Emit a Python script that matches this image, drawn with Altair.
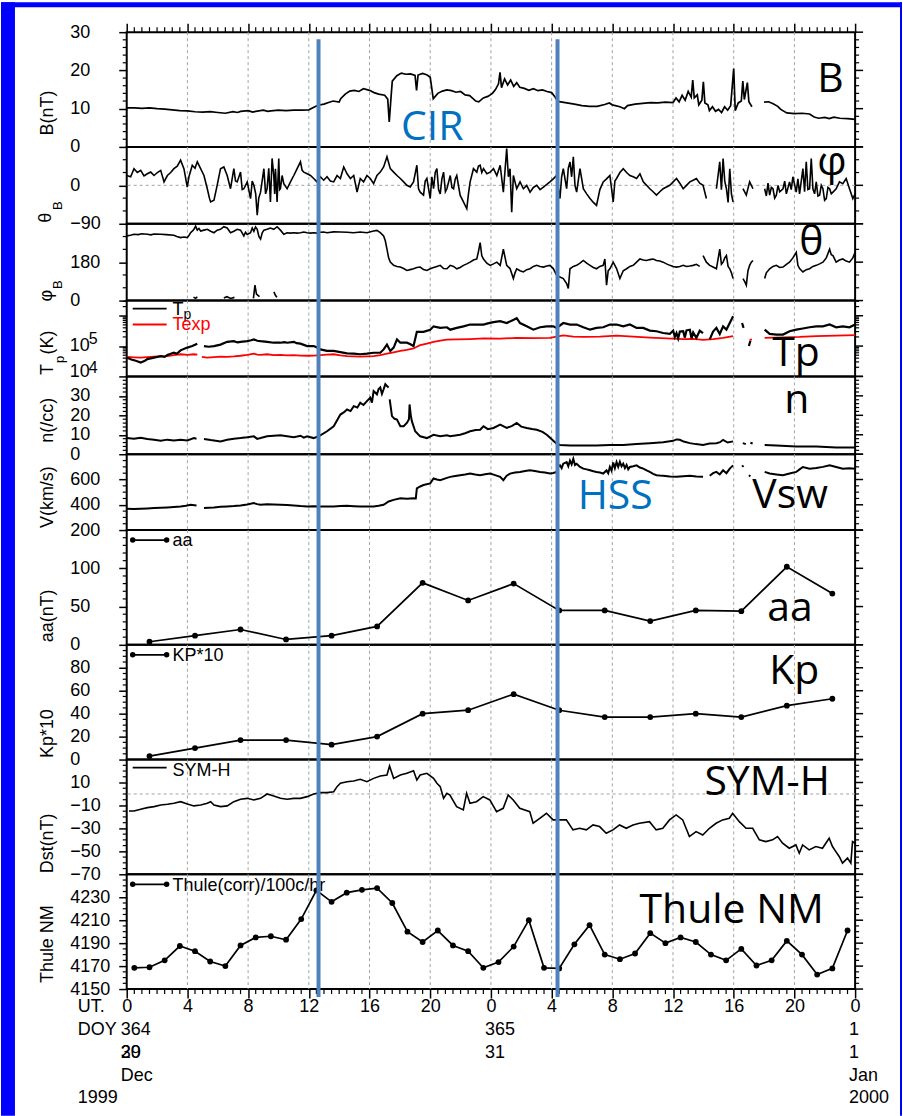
import altair as alt
import pandas as pd

SANS = "Liberation Sans"
BIG = "Open Sans"
W = 730
GRID_C = "#a3a3a3"
EVENT_C = "#4f81bd"
NOTE_C = "#0070c0"

# ---------------- measurements: (hour since 1999-12-30 00 UT, value); None = data gap ----------------
B_NT = [(0.0,10.2),(0.5,10.2),(1.0,10.1),(1.5,10.2),(2.0,10.0),(2.5,9.9),(3.0,9.7),(3.5,9.5),(4.0,9.4),(4.5,9.2),(5.0,9.1),(5.5,9.2),(6.0,9.0),(6.5,8.8),(7.0,9.2),(7.3,9.0),(7.5,9.3),(8.0,9.5),(8.3,9.1),(8.5,9.3),(9.0,9.6),(9.3,9.3),(9.5,9.4),(10.0,9.6),(10.5,9.5),(11.0,9.6),(11.5,9.6),(12.0,9.7),(12.3,10.3),(12.6,10.9),(13.0,11.2),(13.3,11.6),(13.6,12.0),(14.0,11.7),(14.1,12.6),(14.4,13.8),(14.7,14.6),(15.0,14.8),(15.3,14.5),(15.6,15.2),(16.0,14.8),(16.3,14.2),(16.6,13.8),(17.0,13.5),(17.2,12.5),(17.3,6.5),(17.4,12.0),(17.5,17.2),(17.8,18.6),(18.1,19.3),(18.4,19.0),(18.7,19.1),(19.0,18.7),(19.1,14.8),(19.2,18.8),(19.5,19.2),(19.8,18.8),(20.0,18.2),(20.2,12.6),(20.5,14.0),(20.8,14.6),(21.1,14.9),(21.4,14.7),(21.7,14.3),(22.0,14.5),(22.3,13.6),(22.6,13.4),(23.0,12.0),(23.2,11.8),(23.5,12.8),(23.8,13.2),(24.1,14.0),(24.3,15.0),(24.5,16.5),(24.6,19.5),(24.7,15.5),(24.9,17.8),(25.1,16.2),(25.3,17.5),(25.5,15.8),(25.7,16.8),(25.9,15.6),(26.2,15.3),(26.5,14.8),(26.8,15.2),(27.1,14.7),(27.4,14.9),(27.7,14.5),(28.0,14.2),(28.2,13.2),(28.4,11.9),(28.7,11.7),(29.0,11.5),(29.5,11.2),(30.0,10.8),(30.5,10.6),(31.0,10.6),(31.5,11.1),(31.8,11.5),(32.0,11.0),(32.5,10.5),(32.8,10.0),(33.0,10.8),(33.5,11.2),(34.0,11.4),(34.5,11.6),(35.0,11.5),(35.5,11.7),(36.0,11.6),(36.2,12.8),(36.4,11.8),(36.6,13.5),(36.8,12.2),(37.0,14.5),(37.2,13.0),(37.3,17.5),(37.4,12.8),(37.6,13.6),(37.7,11.0),(37.9,12.2),(38.0,17.0),(38.1,11.5),(38.3,11.0),(38.4,9.5),(38.6,10.5),(38.8,9.3),(39.0,9.8),(39.2,9.0),(39.4,10.5),(39.6,9.6),(39.8,10.8),(40.0,20.5),(40.1,9.5),(40.3,11.5),(40.5,12.0),(40.6,17.2),(40.7,12.4),(40.9,16.8),(41.0,11.8),(41.2,10.5),(41.5,None),(42.0,11.7),(42.3,11.8),(42.6,11.3),(42.9,10.6),(43.1,9.8),(43.5,8.9),(44.0,8.7),(44.5,8.8),(45.0,8.6),(45.3,7.8),(45.6,7.5),(46.0,7.7),(46.3,7.4),(46.6,7.8),(47.0,7.5),(47.5,7.4),(48.0,7.2)]

THETA_B = [(0.00,23),(0.26,20),(0.48,39),(0.70,30),(0.92,35),(1.14,22),(1.36,27),(1.58,31),(1.80,23),(2.02,30),(2.24,35),(2.46,8),(2.68,23),(2.90,30),(3.11,39),(3.33,45),(3.55,59),(3.77,39),(3.99,-4),(4.10,20),(4.32,47),(4.50,40),(4.65,55),(4.87,39),(5.09,23),(5.31,-8),(5.45,-30),(5.53,-39),(5.75,-35),(5.96,0),(6.18,39),(6.40,43),(6.62,23),(6.84,-8),(7.06,39),(7.17,10),(7.28,8),(7.50,31),(7.61,-10),(7.72,-8),(7.94,8),(8.16,-31),(8.27,10),(8.38,0),(8.50,-20),(8.60,-70),(8.70,-30),(8.82,-16),(9.04,39),(9.15,-20),(9.25,-8),(9.36,40),(9.47,-39),(9.58,63),(9.69,23),(9.75,-20),(9.80,39),(9.91,-39),(10.02,63),(10.08,-10),(10.13,-8),(10.24,23),(10.35,4),(10.57,-8),(10.79,8),(11.01,23),(11.23,39),(11.45,55),(11.56,35),(11.67,31),(11.89,27),(12.11,23),(12.32,16),(12.54,8),(12.76,20),(12.98,12),(13.20,20),(13.42,10),(13.64,8),(13.86,23),(14.08,16),(14.30,43),(14.52,27),(14.74,16),(14.96,23),(15.18,-16),(15.39,16),(15.61,8),(15.83,23),(16.05,16),(16.27,4),(16.49,23),(16.71,31),(16.93,43),(17.15,67),(17.37,39),(17.59,31),(17.81,23),(18.03,16),(18.25,8),(18.46,0),(18.68,-4),(18.90,8),(19.12,47),(19.23,-8),(19.34,-16),(19.56,-23),(19.67,10),(19.78,16),(20.00,-31),(20.11,20),(20.22,-8),(20.33,30),(20.44,39),(20.55,-10),(20.66,-20),(20.77,15),(20.88,31),(21.00,-15),(21.10,-8),(21.32,23),(21.43,-5),(21.54,-8),(21.65,15),(21.75,23),(21.97,-23),(22.19,-39),(22.41,-55),(22.52,-20),(22.63,8),(22.85,39),(23.07,31),(23.18,45),(23.29,47),(23.40,30),(23.51,39),(23.73,27),(23.95,31),(24.17,39),(24.39,23),(24.61,47),(24.82,-16),(25.04,86),(25.15,20),(25.26,39),(25.37,-63),(25.48,23),(25.70,-8),(25.92,8),(26.14,-8),(26.36,0),(26.58,-16),(26.80,-5),(27.02,0),(27.24,-10),(27.46,-4),(27.68,2),(27.89,8),(28.11,15),(28.33,23),(28.55,-31),(28.66,20),(28.77,39),(28.99,-8),(29.10,40),(29.21,55),(29.32,20),(29.43,67),(29.54,0),(29.65,-16),(29.87,39),(30.09,-8),(30.31,-20),(30.53,-31),(30.75,-40),(30.96,-47),(31.18,-10),(31.40,8),(31.62,15),(31.84,23),(32.06,-39),(32.17,10),(32.28,16),(32.50,30),(32.72,39),(32.94,30),(33.16,23),(33.38,20),(33.60,16),(33.82,27),(34.04,8),(34.26,0),(34.47,-8),(34.69,-15),(34.91,-23),(35.13,-15),(35.35,-8),(35.57,-4),(35.79,0),(36.01,8),(36.23,16),(36.45,5),(36.67,-8),(36.89,0),(37.11,8),(37.33,12),(37.54,16),(37.76,5),(37.98,0),(38.20,-31),(38.30,None),(38.86,-8),(39.08,55),(39.19,-10),(39.30,63),(39.41,10),(39.52,-8),(39.63,-40),(39.74,39),(39.85,-20),(39.96,-39),(40.05,None),(40.61,-8),(40.83,-23),(41.05,8),(41.27,-8),(41.5,None),(42.04,-8),(42.15,-25),(42.26,5),(42.37,-23),(42.48,-5),(42.59,-8),(42.70,-30),(42.81,-23),(42.92,0),(43.03,-15),(43.25,-8),(43.36,10),(43.47,-20),(43.68,8),(43.79,-10),(43.90,20),(44.12,-16),(44.23,15),(44.34,-20),(44.56,39),(44.67,-15),(44.78,55),(44.89,-10),(45.00,-8),(45.11,63),(45.22,-8),(45.33,-20),(45.44,8),(45.55,-25),(45.66,-23),(45.77,0),(45.88,-8),(45.99,-35),(46.10,-31),(46.21,-5),(46.32,-8),(46.43,-20),(46.54,-16),(46.75,-8),(46.97,8),(47.19,4),(47.41,16),(47.63,-8),(47.85,-31),(48.0,-20)]

PHI_B = [(0.0,303),(0.25,306),(0.48,311),(0.75,309),(1.0,313),(1.36,311),(1.6,308),(1.8,312),(2.24,311),(2.6,309),(3.11,306),(3.3,300),(3.55,295),(3.77,298),(3.99,295),(4.1,305),(4.21,318),(4.32,325),(4.43,334),(4.54,349),(4.65,330),(4.76,338),(4.87,326),(5.09,330),(5.31,334),(5.53,325),(5.75,318),(5.96,330),(6.18,334),(6.40,346),(6.62,340),(6.84,318),(7.06,325),(7.28,334),(7.50,330),(7.72,303),(7.83,320),(7.94,310),(8.16,318),(8.27,340),(8.38,325),(8.49,345),(8.60,334),(8.71,300),(8.82,288),(8.93,318),(9.04,330),(9.25,334),(9.47,340),(9.69,334),(9.91,346),(10.13,330),(10.35,311),(10.57,318),(10.79,316),(11.01,318),(11.23,316),(11.45,318),(11.67,321),(11.89,318),(12.11,316),(12.32,318),(12.54,316),(12.76,320),(12.98,321),(13.20,318),(13.64,322),(14.08,321),(14.52,320),(14.96,318),(15.39,321),(15.83,318),(16.27,326),(16.49,329),(16.71,318),(16.93,303),(17.04,280),(17.15,241),(17.26,200),(17.37,180),(17.59,165),(17.81,160),(18.03,157),(18.25,150),(18.46,141),(18.68,145),(18.90,149),(19.12,155),(19.34,157),(19.56,145),(19.78,141),(20.00,149),(20.22,155),(20.44,160),(20.66,165),(20.88,150),(21.10,149),(21.32,165),(21.54,160),(21.75,149),(21.97,155),(22.19,165),(22.41,172),(22.63,180),(22.85,190),(23.07,195),(23.18,230),(23.29,272),(23.40,210),(23.51,195),(23.73,175),(23.95,165),(24.17,172),(24.39,180),(24.61,165),(24.82,241),(25.04,165),(25.26,150),(25.48,103),(25.59,130),(25.70,149),(25.92,140),(26.14,134),(26.36,145),(26.58,149),(26.80,160),(27.02,165),(27.24,160),(27.46,157),(27.68,162),(27.89,165),(28.11,150),(28.33,119),(28.55,110),(28.77,103),(28.99,80),(29.10,57),(29.21,149),(29.43,160),(29.65,165),(29.87,175),(30.09,188),(30.31,175),(30.53,165),(30.75,155),(30.96,149),(31.18,160),(31.40,165),(31.51,195),(31.62,72),(31.73,140),(31.84,149),(32.06,180),(32.28,150),(32.50,103),(32.72,140),(32.94,149),(33.16,160),(33.38,165),(33.60,180),(33.82,195),(34.04,190),(34.26,188),(34.47,192),(34.69,195),(34.91,188),(35.13,185),(35.35,180),(35.57,172),(35.79,165),(36.01,160),(36.23,157),(36.45,160),(36.67,165),(36.89,160),(37.11,162),(37.33,165),(37.54,170),(37.76,160),(37.87,None),(37.98,211),(38.20,180),(38.42,165),(38.64,157),(38.86,149),(39.08,241),(39.19,170),(39.30,180),(39.41,200),(39.52,211),(39.63,160),(39.74,149),(39.85,130),(39.96,103),(40.05,None),(40.61,103),(40.72,90),(40.83,72),(40.94,140),(41.05,165),(41.16,180),(41.27,188),(41.5,None),(42.04,103),(42.15,130),(42.37,149),(42.59,160),(42.81,165),(43.03,155),(43.25,157),(43.47,170),(43.68,180),(43.90,200),(44.12,226),(44.23,165),(44.34,150),(44.56,134),(44.78,145),(45.00,149),(45.22,160),(45.44,165),(45.66,172),(45.88,180),(46.10,200),(46.32,241),(46.43,215),(46.54,211),(46.75,180),(46.97,190),(47.19,195),(47.41,185),(47.63,180),(47.85,200),(48.0,226)]
# short stretches where the azimuth wrapped through 360 -> 0
PHI_B_WRAP = [(4.40,15),(4.55,11),(4.65,18),(4.7,None),(6.40,12),(6.60,18),(6.85,10),(7.10,15),(7.2,None),(8.35,10),(8.45,72),(8.55,30),(8.75,18),(8.8,None),(9.70,41),(9.80,25),(9.90,15)]

TP_K = [(0.0,41700),(0.3,36000),(0.6,33000),(0.92,28800),(1.2,33000),(1.36,37200),(1.8,41700),(2.24,46800),(2.5,44000),(2.68,51300),(3.11,60300),(3.3,56000),(3.55,72400),(3.99,89100),(4.32,100000),(4.65,120000),(4.8,None),(5.09,100000),(5.4,95000),(5.75,100000),(6.18,112000),(6.62,138000),(7.06,145000),(7.3,132000),(7.5,138000),(7.94,145000),(8.2,155000),(8.38,166000),(8.6,150000),(8.82,145000),(9.25,138000),(9.69,129000),(10.13,129000),(10.4,135000),(10.57,129000),(11.01,138000),(11.2,125000),(11.45,120000),(11.89,100000),(12.32,100000),(12.55,90000),(12.76,77600),(13.2,69200),(13.64,69200),(14.08,63100),(14.52,57500),(14.96,56200),(15.39,53700),(15.83,56200),(16.27,60300),(16.71,60300),(16.93,77600),(17.15,112000),(17.37,69200),(17.59,89100),(17.81,166000),(18.03,129000),(18.46,129000),(18.7,115000),(18.9,100000),(19.12,295000),(19.56,295000),(20.0,347000),(20.22,447000),(20.66,398000),(21.1,417000),(21.32,347000),(21.75,398000),(22.19,447000),(22.63,513000),(23.07,513000),(23.51,513000),(23.8,560000),(24.17,617000),(24.61,661000),(25.04,575000),(25.4,700000),(25.7,832000),(25.92,575000),(26.36,447000),(26.8,347000),(27.24,417000),(27.68,447000),(28.11,447000),(28.33,398000),(28.77,575000),(29.21,513000),(29.65,513000),(30.09,417000),(30.53,347000),(30.96,398000),(31.4,417000),(31.84,513000),(32.28,513000),(32.72,447000),(33.16,513000),(33.6,398000),(34.04,398000),(34.47,324000),(34.91,309000),(35.35,269000),(35.79,251000),(36.01,324000),(36.12,200000),(36.23,269000),(36.34,180000),(36.45,300000),(36.67,309000),(36.78,190000),(36.89,330000),(37.11,347000),(37.22,180000),(37.33,280000),(37.54,186000),(37.76,320000),(37.98,269000),(38.2,None),(38.42,166000),(38.64,300000),(38.86,398000),(39.08,250000),(39.3,447000),(39.52,350000),(39.74,575000),(39.96,955000),(40.05,None),(40.55,575000),(40.65,400000),(40.7,None),(41.0,100000),(41.1,150000),(41.2,None),(42.04,347000),(42.37,251000),(42.81,240000),(43.25,240000),(43.68,309000),(44.12,347000),(44.56,380000),(45.0,417000),(45.44,447000),(45.88,447000),(46.32,513000),(46.75,417000),(47.19,447000),(47.63,417000),(48.0,513000)]

TEXP_K = [(0.0,43700),(0.5,42500),(0.92,41700),(1.36,43000),(1.8,44700),(2.24,45500),(2.68,46800),(3.11,50000),(3.55,53700),(4.0,51000),(4.43,53700),(4.65,52000),(4.8,None),(4.95,44000),(5.31,41700),(5.75,43500),(6.18,44700),(6.62,44000),(7.06,45700),(7.5,48000),(7.94,51300),(8.38,56200),(8.6,52000),(8.82,51300),(9.25,53700),(9.69,50000),(10.13,51300),(10.57,49000),(11.01,50100),(11.45,48500),(11.89,47900),(12.32,48500),(12.76,50100),(13.2,52000),(13.64,53700),(14.08,49000),(14.52,46800),(14.96,45500),(15.39,44700),(15.83,46000),(16.27,46800),(16.71,50000),(17.15,56200),(17.59,62000),(18.03,69200),(18.46,75000),(18.9,83200),(19.12,95000),(19.34,107000),(19.78,120000),(20.22,138000),(20.66,151000),(21.1,162000),(21.75,166000),(22.63,170000),(23.51,178000),(24.61,175000),(25.7,186000),(26.8,183000),(27.89,186000),(28.33,205000),(28.77,224000),(29.43,205000),(30.09,200000),(31.18,205000),(32.28,220000),(33.38,205000),(34.47,190000),(35.57,180000),(36.67,170000),(37.33,172000),(37.98,160000),(38.64,170000),(39.3,186000),(39.96,214000),(40.05,None),(40.55,166000),(40.7,None),(41.05,160000),(41.2,166000),(41.3,None),(42.04,186000),(43.25,195000),(44.34,200000),(45.44,214000),(46.75,220000),(48.0,229000)]

N_CC = [(0.0,8.3),(0.48,8.0),(0.92,8.5),(1.36,7.8),(1.8,7.4),(2.24,6.9),(2.68,7.5),(3.11,7.1),(3.55,7.4),(3.99,7.1),(4.43,8.3),(4.6,8.0),(4.8,None),(5.09,7.8),(5.53,7.3),(5.75,7.1),(6.18,6.6),(6.62,7.4),(7.06,8.0),(7.5,8.3),(7.94,8.7),(8.38,9.2),(8.6,7.9),(8.82,8.3),(9.25,9.2),(9.69,9.5),(10.13,9.7),(10.57,9.2),(11.01,8.7),(11.45,9.5),(11.67,8.5),(11.89,9.2),(12.32,8.3),(12.76,9.7),(13.2,11.8),(13.64,14.4),(14.08,20.4),(14.3,21.5),(14.52,23.0),(14.75,22.2),(14.96,24.7),(15.2,24.0),(15.39,26.5),(15.6,25.3),(15.83,27.3),(16.05,29.1),(16.16,26.5),(16.27,32.5),(16.49,30.8),(16.6,33.5),(16.71,34.3),(16.82,31.0),(16.93,33.4),(17.04,36.0),(17.15,35.1),(17.26,34.3),(17.3,None),(17.33,28.2),(17.48,19.6),(17.65,18.2),(17.81,17.8),(18.03,14.4),(18.25,14.4),(18.46,16.1),(18.6,18.0),(18.64,25.6),(18.72,20.0),(18.79,17.0),(19.01,11.8),(19.34,9.2),(19.78,8.3),(20.22,10.0),(20.66,9.2),(21.1,9.7),(21.32,9.2),(21.97,10.0),(22.3,10.8),(22.63,11.8),(23.0,12.4),(23.29,12.6),(23.51,14.4),(23.8,12.9),(24.17,13.5),(24.61,15.2),(25.04,13.5),(25.4,14.6),(25.7,16.1),(26.0,14.2),(26.36,13.5),(26.7,13.0),(27.02,12.6),(27.4,11.5),(27.68,10.0),(27.9,8.5),(28.11,6.9),(28.33,5.5),(28.55,4.8),(29.21,4.5),(30.09,4.5),(30.96,4.5),(31.84,4.8),(32.72,4.8),(33.6,5.2),(34.47,5.7),(35.35,6.2),(36.01,6.9),(36.23,7.6),(36.45,7.4),(36.7,6.5),(37.11,5.7),(37.5,5.2),(37.98,4.8),(38.4,5.5),(38.86,5.7),(39.1,6.2),(39.3,7.4),(39.6,6.0),(39.96,6.6),(40.05,None),(40.6,5.7),(40.8,5.2),(40.9,None),(41.1,5.9),(41.25,5.5),(41.3,None),(42.04,4.8),(42.81,4.5),(44.12,4.0),(45.44,4.0),(46.75,3.5),(48.0,3.5)]

V_KMS = [(0.0,369),(0.46,366),(0.92,369),(1.36,371),(1.8,374),(2.24,376),(2.68,379),(3.11,383),(3.55,387),(3.9,392),(4.21,400),(4.6,395),(4.8,None),(5.09,374),(5.4,377),(5.75,379),(6.18,384),(6.62,387),(7.06,390),(7.5,395),(7.94,402),(8.38,413),(8.6,405),(8.82,400),(9.25,405),(9.69,402),(10.13,400),(10.57,398),(11.01,395),(11.45,390),(11.89,387),(12.32,389),(12.76,387),(13.2,386),(13.64,387),(14.08,390),(14.52,392),(14.96,389),(15.39,387),(15.83,386),(16.27,387),(16.6,392),(16.93,400),(17.26,426),(17.59,439),(18.03,452),(18.46,447),(18.9,452),(19.05,450),(19.12,530),(19.34,545),(19.56,556),(20.0,569),(20.22,608),(20.44,600),(20.66,595),(21.1,613),(21.32,621),(21.65,628),(21.97,634),(22.3,640),(22.63,647),(22.96,640),(23.29,634),(23.62,641),(23.95,647),(24.28,635),(24.61,621),(24.82,595),(25.04,630),(25.26,647),(25.59,655),(25.92,660),(26.25,668),(26.58,673),(26.9,667),(27.24,660),(27.56,655),(27.89,647),(28.11,652),(28.33,660),(28.44,700),(28.55,712),(28.66,690),(28.77,725),(28.99,738),(29.1,705),(29.21,750),(29.32,720),(29.43,764),(29.54,715),(29.65,725),(29.87,700),(30.09,686),(30.31,680),(30.53,673),(30.75,666),(30.96,660),(31.18,655),(31.4,647),(31.62,672),(31.73,650),(31.84,699),(31.95,670),(32.06,735),(32.17,690),(32.28,738),(32.39,700),(32.5,740),(32.61,705),(32.72,725),(32.83,690),(32.94,715),(33.05,680),(33.16,699),(33.38,705),(33.6,712),(33.82,695),(34.04,686),(34.26,672),(34.47,660),(34.69,645),(34.91,634),(35.13,631),(35.35,629),(35.79,624),(36.23,621),(36.67,625),(37.11,629),(37.54,624),(37.98,621),(38.1,None),(38.42,630),(38.64,650),(38.86,660),(39.08,640),(39.3,673),(39.52,650),(39.74,686),(39.96,712),(40.05,None),(40.55,712),(40.65,700),(40.75,None),(41.0,634),(41.1,625),(41.2,None),(42.04,660),(42.37,647),(42.81,640),(43.25,634),(43.68,648),(44.12,660),(44.34,680),(44.56,699),(45.0,686),(45.44,691),(45.88,700),(46.32,712),(46.75,699),(47.19,686),(47.63,690),(48.0,686)]

# 3-hourly indices, centred on each interval
AA_HOURS = [1.5, 4.5, 7.5, 10.5, 13.5, 16.5, 19.5, 22.5, 25.5, 28.5, 31.5, 34.5, 37.5, 40.5, 43.5, 46.5]
AA_NT = [4, 12, 20, 7, 12, 24, 81, 58, 80, 45, 45, 31, 45, 44, 102, 67]
KP_X10 = [3, 10, 17, 17, 13, 20, 40, 43, 57, 43, 37, 37, 40, 37, 47, 53]

SYM_H = [(0.15,-14.8),(0.48,-14.8),(0.92,-13.3),(1.36,-11.9),(1.8,-11.0),(2.24,-9.6),(2.68,-9.0),(3.11,-8.1),(3.55,-6.7),(3.99,-8.7),(4.43,-10.4),(4.87,-9.6),(5.31,-8.1),(5.53,-6.7),(5.75,-9.6),(6.18,-11.0),(6.62,-10.4),(7.06,-6.7),(7.5,-4.6),(7.94,-3.8),(8.38,-5.2),(8.82,-3.8),(9.25,0.0),(9.69,-1.7),(10.13,-3.8),(10.57,-4.6),(11.01,-3.8),(11.45,-3.8),(11.89,-2.3),(12.32,0.0),(12.76,1.2),(13.2,1.2),(13.64,2.0),(13.86,6.4),(14.08,9.3),(14.52,10.7),(14.96,11.3),(15.39,12.8),(15.83,10.7),(16.27,13.6),(16.71,15.7),(17.15,16.5),(17.32,24.4),(17.59,13.6),(18.03,16.5),(18.46,18.0),(18.9,20.3),(19.12,12.2),(19.34,16.5),(19.78,18.0),(20.22,13.6),(20.44,9.3),(20.66,6.4),(20.88,-3.8),(21.1,0.6),(21.3,-0.9),(21.74,-11.0),(22.18,-13.9),(22.4,0.6),(22.62,-8.1),(23.05,-6.7),(23.49,-2.3),(23.93,-5.2),(24.37,-15.4),(24.81,-12.5),(25.14,-0.9),(25.47,-5.2),(25.9,-12.5),(26.56,-15.4),(26.78,-25.5),(27.22,-21.2),(27.66,-16.8),(28.1,-22.6),(28.53,-22.6),(28.97,-22.6),(29.41,-31.3),(29.85,-29.9),(30.29,-31.3),(30.73,-27.0),(31.16,-28.4),(31.6,-34.2),(32.04,-31.3),(32.48,-27.0),(32.92,-29.9),(33.36,-27.0),(33.79,-25.5),(34.45,-24.1),(34.89,-31.3),(35.33,-29.9),(35.77,-22.6),(36.21,-18.3),(36.64,-22.6),(37.08,-37.1),(37.52,-32.8),(37.96,-35.7),(38.4,-29.9),(38.84,-25.5),(39.27,-22.6),(39.71,-21.2),(39.93,-16.8),(40.37,-24.1),(40.81,-29.9),(41.25,-29.9),(41.69,-40.0),(42.12,-41.5),(42.56,-40.0),(42.89,-37.1),(43.22,-42.9),(43.66,-47.3),(44.1,-44.4),(44.32,-51.6),(44.54,-44.4),(44.97,-48.7),(45.41,-45.8),(45.85,-47.3),(46.29,-38.6),(46.51,-45.8),(46.73,-50.2),(46.95,-54.5),(47.17,-60.3),(47.5,-55.9),(47.72,-60.3),(47.83,-41.5),(48.0,-42.9)]

# hourly neutron-monitor counts, centred on each hour
THULE_HOURS = [h + 0.5 for h in range(48)]
THULE_RATE = [4168.5, 4169, 4175, 4187.5, 4183, 4174, 4170, 4188, 4195, 4196, 4193, 4211, 4236, 4226, 4234, 4236.5, 4238, 4225, 4200, 4191, 4201, 4188, 4183, 4168.5, 4173.5, 4187, 4210, 4168.5, 4168, 4189, 4205.7, 4180, 4176, 4181, 4198.7, 4190, 4195, 4191, 4180, 4175, 4185, 4170.5, 4175, 4192, 4180, 4162.6, 4168, 4201]

EVENT_HOURS = [12.64, 28.39]  # CIR arrival, high-speed stream onset

DATE_ROWS = [  # (hour, text, row) beneath the UT axis
    (0, "364", 1), (24, "365", 1), (48, "1", 1),
    (0, "29", 2), (0, "30", 2), (24, "31", 2), (48, "1", 2),
    (0, "Dec", 3), (48, "Jan", 3),
    (48, "2000", 4),
]


# ---------------- helpers ----------------
def frame(pairs):
    rows, seg = [], 0
    for t, v in pairs:
        if v is None:
            seg += 1
        else:
            rows.append({"h": t, "v": v, "seg": seg})
    return pd.DataFrame(rows)


ONE = pd.DataFrame({"k": [0]})
XSCALE = alt.Scale(domain=[0, 48], nice=False, zero=False)
GRID_DF = pd.DataFrame({"h": list(range(4, 48, 4))})
HALF_HOURS = pd.DataFrame({"h": [i / 2 for i in range(1, 96) if i % 8 != 0]})


def xenc(axis=None):
    return alt.X("h:Q", scale=XSCALE, axis=axis, title=None)


def yenc(domain, labels, log=False, show=True):
    if log:
        sc = alt.Scale(domain=domain, type="log", nice=False)
    else:
        sc = alt.Scale(domain=domain, nice=False, zero=False)
    ax = alt.Axis(values=labels, labels=show, tickSize=8, tickWidth=1.5, tickColor="black",
                  domain=False, grid=False, labelAlign="left", labelPadding=49,
                  labelFont=SANS, labelFontSize=18, labelColor="black", format="d",
                  labelBaseline="middle", labelOverlap=False, labelFlush=False)
    return alt.Y("v:Q", scale=sc, axis=ax, title=None)


def steps(lo, hi, step, skip):
    out, k = [], 0
    while lo + k * step <= hi + 1e-9:
        val = round(lo + k * step, 6)
        if all(abs(val - s) > 1e-9 for s in skip):
            out.append(val)
        k += 1
    return out


def text(t, x, y, size=18, font=SANS, color="black", align="left",
         baseline="alphabetic", angle=0):
    return alt.Chart(ONE).mark_text(text=t, font=font, fontSize=size, color=color,
                                    align=align, baseline=baseline, angle=angle).encode(
        x=alt.value(x), y=alt.value(y))


def vtitle(t, x, y, size=18):
    return text(t, x, y, size=size, align="center", baseline="middle", angle=270)


def frame_ticks(Y, majors, minors):
    mn = pd.DataFrame({"v": minors})
    mj = pd.DataFrame({"v": majors})
    return [
        alt.Chart(mn).mark_rule(color="black", strokeWidth=1.2).encode(
            y=Y, x=alt.value(-4), x2=alt.value(0)),
        alt.Chart(mn).mark_rule(color="black", strokeWidth=1.2).encode(
            y=Y, x=alt.value(W), x2=alt.value(W + 4)),
        alt.Chart(mj).mark_rule(color="black", strokeWidth=1.5).encode(
            y=Y, x=alt.value(W), x2=alt.value(W + 8)),
    ]


def grid(X):
    return alt.Chart(GRID_DF).mark_rule(color=GRID_C, strokeDash=[3, 3], strokeWidth=1).encode(x=X)


def zero_line(Y):
    return alt.Chart(pd.DataFrame({"v": [0]})).mark_rule(
        color=GRID_C, strokeDash=[3, 3], strokeWidth=1).encode(y=Y)


def trace(pairs, X, Y, color="black", width=1.7):
    return alt.Chart(frame(pairs)).mark_line(color=color, strokeWidth=width).encode(
        x=X, y=Y, detail="seg:N")


def dotted(hours, values, X, Y):
    df = pd.DataFrame({"h": hours, "v": values})
    return [alt.Chart(df).mark_line(color="black", strokeWidth=1.7).encode(x=X, y=Y),
            alt.Chart(df).mark_circle(color="black", size=34, opacity=1).encode(x=X, y=Y)]


def key(y, label, ty, color="black", dots=False):
    out = [alt.Chart(ONE).mark_rule(color=color, strokeWidth=1.8).encode(
        x=alt.value(6), x2=alt.value(40), y=alt.value(y))]
    if dots:
        for xx in (6, 40):
            out.append(alt.Chart(ONE).mark_circle(color=color, size=30, opacity=1).encode(
                x=alt.value(xx), y=alt.value(y)))
    out.append(text(label, 46, ty, color=color))
    return out


def big(t, x, y, color="black"):
    return text(t, x, y, size=41, font=BIG, color=color)


def strip(x1, x2, y1, y2):
    return alt.Chart(ONE).mark_rect(color="#0000ff", strokeWidth=0).encode(
        x=alt.value(x1), x2=alt.value(x2), y=alt.value(y1), y2=alt.value(y2))


# ---------------- panels ----------------
# 1. field magnitude (UT ticks along the top edge; also carries the slide border)
X1 = xenc(alt.Axis(orient="top", values=list(range(0, 49, 4)), labels=False, tickSize=9,
                   tickWidth=1.5, tickColor="black", domain=False, grid=False))
Y1 = yenc([0, 30], [0, 10, 20, 30])
p1 = alt.layer(
    strip(-126, -112, -30, 1086), strip(-126, 777, -30, -25), strip(775, 777, -30, 1086),
    grid(X1),
    alt.Chart(HALF_HOURS).mark_rule(color="black", strokeWidth=1.2).encode(
        x=X1, y=alt.value(-5), y2=alt.value(0)),
    *frame_ticks(Y1, [0, 10, 20, 30], steps(0, 30, 2, [0, 10, 20, 30])),
    trace(B_NT, X1, Y1),
    vtitle("B(nT)", -79, 81),
    big("B", 692, 60), big("CIR", 275, 108, NOTE_C),
).properties(width=W, height=115)

# 2. field latitude
X2 = xenc()
Y2 = yenc([-90, 90], [-90, 0])
p2 = alt.layer(
    grid(X2), zero_line(Y2),
    *frame_ticks(Y2, [-90, 0, 90], steps(-90, 90, 30, [-90, 0, 90])),
    trace(THETA_B, X2, Y2, width=1.6),
    vtitle("θ", -81, 71), vtitle("B", -69, 59, size=13),
    big("φ", 692, 28),
).properties(width=W, height=77)

# 3. field longitude
X3 = xenc()
Y3 = yenc([0, 360], [0, 180])
p3 = alt.layer(
    grid(X3),
    *frame_ticks(Y3, [0, 180, 360], steps(0, 360, 60, [0, 180, 360])),
    trace(PHI_B, X3, Y3, width=1.6),
    trace(PHI_B_WRAP, X3, Y3, width=1.6),
    vtitle("φ", -80, 72), vtitle("B", -69, 61, size=13),
    big("θ", 674, 31),
).properties(width=W, height=77)

# 4. proton temperature (log)
X4 = xenc()
TP_DOMAIN = [1e4, 10 ** 6.5]
Y4 = yenc(TP_DOMAIN, [1e4, 1e5, 1e6], log=True, show=False)
tp_minor = [m * 10 ** e for e in (4, 5) for m in range(2, 10)] + [2e6, 3e6]


def tp_label(val, t, x, dy, size):
    return alt.Chart(pd.DataFrame({"v": [val]})).mark_text(
        text=t, align="left", baseline="middle", font=SANS, fontSize=size, dy=dy,
        color="black").encode(x=alt.value(x), y=Y4)


p4 = alt.layer(
    grid(X4),
    *frame_ticks(Y4, [1e4, 1e5, 1e6], tp_minor),
    trace(TEXP_K, X4, Y4, color="#ff0000", width=1.8),
    trace(TP_K, X4, Y4, width=2.2),
    tp_label(1e5, "10", -57, 0, 18), tp_label(1e5, "5", -38, -7, 16),
    tp_label(1e4, "10", -57, -4, 18), tp_label(1e4, "4", -38, -8, 16),
    vtitle("T", -79, 69), vtitle("p", -67, 59, size=13), vtitle("(K)", -79, 42),
    *key(8, "T", 14),
    text("p", 57, 18, size=14),
    alt.Chart(ONE).mark_rule(color="#ff0000", strokeWidth=1.8).encode(
        x=alt.value(6), x2=alt.value(40), y=alt.value(24)),
    text("Texp", 46, 29, color="#ff0000"),
    big("Tp", 647, 66),
).properties(width=W, height=76)

# 5. density
X5 = xenc()
Y5 = yenc([0, 40], [0, 10, 20, 30])
p5 = alt.layer(
    grid(X5),
    *frame_ticks(Y5, [0, 10, 20, 30, 40], steps(0, 40, 2, [0, 10, 20, 30, 40])),
    trace(N_CC, X5, Y5, width=2.0),
    vtitle("n(/cc)", -79, 44),
    big("n", 659, 37),
).properties(width=W, height=78)

# 6. solar-wind speed
X6 = xenc()
Y6 = yenc([200, 800], [200, 400, 600])
p6 = alt.layer(
    grid(X6),
    *frame_ticks(Y6, [200, 400, 600, 800], steps(200, 800, 50, [200, 400, 600, 800])),
    trace(V_KMS, X6, Y6, width=2.0),
    vtitle("V(km/s)", -79, 43),
    big("Vsw", 627, 54), big("HSS", 452, 55, NOTE_C),
).properties(width=W, height=76)

# 7. aa index
X7 = xenc()
Y7 = yenc([0, 150], [0, 50, 100])
p7 = alt.layer(
    grid(X7),
    *frame_ticks(Y7, [0, 50, 100, 150], steps(0, 150, 10, [0, 50, 100, 150])),
    *dotted(AA_HOURS, AA_NT, X7, Y7),
    vtitle("aa(nT)", -79, 86),
    *key(10, "aa", 16, dots=True),
    big("aa", 642, 91),
).properties(width=W, height=115)

# 8. Kp
X8 = xenc()
Y8 = yenc([0, 100], [0, 20, 40, 60, 80])
p8 = alt.layer(
    grid(X8),
    *frame_ticks(Y8, [0, 20, 40, 60, 80, 100], steps(0, 100, 5, [0, 20, 40, 60, 80, 100])),
    *dotted(AA_HOURS, KP_X10, X8, Y8),
    vtitle("Kp*10", -79, 89),
    *key(10, "KP*10", 16, dots=True),
    big("Kp", 644, 39),
).properties(width=W, height=115)

# 9. SYM-H
X9 = xenc()
Y9 = yenc([-70, 30], [-70, -50, -30, -10, 10])
p9 = alt.layer(
    grid(X9), zero_line(Y9),
    *frame_ticks(Y9, [-70, -50, -30, -10, 10, 30], steps(-70, 30, 5, [-70, -50, -30, -10, 10, 30])),
    trace(SYM_H, X9, Y9, width=1.6),
    vtitle("Dst(nT)", -79, 84),
    *key(8, "SYM-H", 16),
    big("SYM-H", 579, 36),
).properties(width=W, height=115)

# 10. Thule neutron monitor (UT axis, date rows and event markers)
X10 = xenc(alt.Axis(orient="bottom", values=list(range(0, 49, 4)), tickSize=9, tickWidth=1.5,
                    tickColor="black", domain=False, grid=False, labelExpr="datum.value % 24",
                    labelFont=SANS, labelFontSize=18, labelColor="black", labelPadding=0,
                    labelFlush=False, labelOverlap=False))
Y10 = yenc([4150, 4250], [4150, 4170, 4190, 4210, 4230])
dates = pd.DataFrame(DATE_ROWS, columns=["h", "txt", "row"])
ROW_Y = {1: 156, 2: 179, 3: 202, 4: 224}
date_layers = [
    alt.Chart(dates[dates["row"] == r]).mark_text(
        align="left", baseline="middle", dx=-6, font=SANS, fontSize=18, color="black").encode(
        x=X10, y=alt.value(ROW_Y[r]), text="txt:N")
    for r in ROW_Y
]
p10 = alt.layer(
    grid(X10),
    alt.Chart(HALF_HOURS).mark_rule(color="black", strokeWidth=1.2).encode(
        x=X10, y=alt.value(115), y2=alt.value(120)),
    *frame_ticks(Y10, [4150, 4170, 4190, 4210, 4230, 4250],
                 steps(4150, 4250, 5, [4150, 4170, 4190, 4210, 4230, 4250])),
    *dotted(THULE_HOURS, THULE_RATE, X10, Y10),
    vtitle("Thule NM", -79, 70),
    *key(10, "Thule(corr)/100c/hr", 17, dots=True),
    big("Thule NM", 514, 49),
    text("UT.", -49, 133, baseline="middle"),
    text("DOY", -49, 156, baseline="middle"),
    text("1999", -49, 224, baseline="middle"),
    *date_layers,
    alt.Chart(pd.DataFrame({"h": EVENT_HOURS})).mark_rule(color=EVENT_C, strokeWidth=4).encode(
        x=X10, y=alt.value(-837), y2=alt.value(123)),
).properties(width=W, height=115)

chart = alt.vconcat(p1, p2, p3, p4, p5, p6, p7, p8, p9, p10, spacing=0, bounds="flush").resolve_scale(
    x="independent", y="independent"
).configure(background="white", padding=0).configure_view(stroke="black", strokeWidth=2)

chart.save("out.html", embed_options={"renderer": "svg", "actions": False})
